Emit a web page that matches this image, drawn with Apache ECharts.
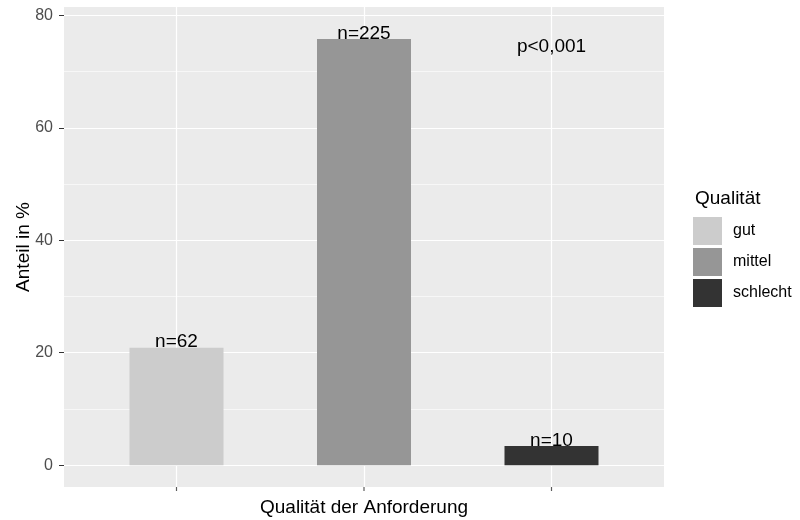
<!DOCTYPE html>
<html>
<head>
<meta charset="utf-8">
<script src="https://cdn.jsdelivr.net/npm/echarts@6/dist/echarts.min.js"></script>
<style>
html,body{margin:0;padding:0;background:#fff;}
#chart{width:800px;height:520px;}
</style>
</head>
<body>
<div id="chart"></div>
<script>
const categories = ['gut', 'mittel', 'schlecht'];
const counts = [62, 225, 10];
const percents = [20.9, 75.8, 3.4];
const colors = ['#CCCCCC', '#969696', '#333333'];
const yTicks = [0, 20, 40, 60, 80];
const yMinor = [10, 30, 50, 70];
const xPositions = [1, 2, 3];
const pText = 'p<0,001';
const pPos = [3, 74.5];
const yMin = -3.88, yMax = 81.5;
const xMin = 0.4, xMax = 3.6;

const FONT = '"Liberation Sans", Arial, sans-serif';
const chart = echarts.init(document.getElementById('chart'), null, {renderer: 'canvas'});

const gridLines = [];
yTicks.forEach(v => gridLines.push({yAxis: v, lineStyle: {color: '#FFFFFF', width: 1.2, type: 'solid'}}));
yMinor.forEach(v => gridLines.push({yAxis: v, lineStyle: {color: '#FFFFFF', width: 0.6, type: 'solid'}}));
xPositions.forEach(v => gridLines.push({xAxis: v, lineStyle: {color: '#FFFFFF', width: 1.2, type: 'solid'}}));

const series = [{
  type: 'line',
  name: '_grid',
  data: [],
  z: 1,
  silent: true,
  markLine: {
    z: 1,
    silent: true,
    symbol: ['none', 'none'],
    label: {show: false},
    animation: false,
    data: gridLines
  },
  markPoint: {
    z: 5,
    silent: true,
    symbol: 'circle',
    symbolSize: 0,
    data: [{coord: pPos, value: pText}],
    label: {show: true, position: 'inside', formatter: pText, color: '#000', fontSize: 19, fontFamily: FONT}
  }
}, {
  // small x-axis tick marks just below the panel, at the category positions
  type: 'scatter',
  name: '_xticks',
  silent: true,
  clip: false,
  z: 4,
  symbol: 'rect',
  symbolSize: [1.2, 4],
  itemStyle: {color: '#333333'},
  data: xPositions.map(x => [x, yMin - 0.36])
}];

categories.forEach((c, i) => {
  series.push({
    type: 'bar',
    name: c,
    data: [[xPositions[i], percents[i]]],
    barWidth: 94,
    barGap: '-100%',
    z: 3,
    itemStyle: {color: colors[i]},
    label: {
      show: true,
      position: 'top',
      distance: -4,
      formatter: 'n=' + counts[i],
      color: '#000',
      fontSize: 19,
      fontFamily: FONT
    }
  });
});

chart.setOption({
  animation: false,
  textStyle: {fontFamily: FONT},
  grid: {
    left: 64, right: 136, top: 7, bottom: 33,
    outerBoundsMode: 'none',
    containLabel: false,
    show: true, backgroundColor: '#EBEBEB', borderWidth: 0
  },
  xAxis: {
    type: 'value',
    min: xMin, max: xMax,
    axisLine: {show: false},
    splitLine: {show: false},
    axisLabel: {show: false},
    axisTick: {show: true, inside: false, customValues: xPositions, length: 5, lineStyle: {color: '#333333', width: 1}},
    name: 'Qualität der Anforderung',
    nameLocation: 'middle',
    nameGap: 11,
    nameMoveOverlap: false,
    nameTextStyle: {color: '#000', fontSize: 19, fontFamily: FONT}
  },
  yAxis: {
    type: 'value',
    min: yMin, max: yMax,
    axisLine: {show: false},
    splitLine: {show: false},
    axisTick: {show: true, customValues: yTicks, length: 5, lineStyle: {color: '#333333', width: 1}},
    axisLabel: {customValues: yTicks, color: '#4D4D4D', fontSize: 16, margin: 11, fontFamily: FONT},
    name: 'Anteil in %',
    nameLocation: 'middle',
    nameGap: 31,
    nameMoveOverlap: false,
    nameTextStyle: {color: '#000', fontSize: 19, fontFamily: FONT}
  },
  legend: {
    data: categories,
    orient: 'vertical',
    left: 693, top: 217,
    itemWidth: 29, itemHeight: 28, itemGap: 3,
    icon: 'rect',
    padding: 0,
    textStyle: {color: '#000', fontSize: 16, fontFamily: FONT, padding: [0, 0, 0, 6]}
  },
  graphic: [{
    type: 'text',
    left: 695, top: 189,
    style: {text: 'Qualität', fill: '#000', fontSize: 19, fontFamily: FONT}
  }],
  series: series
});
</script>
</body>
</html>
